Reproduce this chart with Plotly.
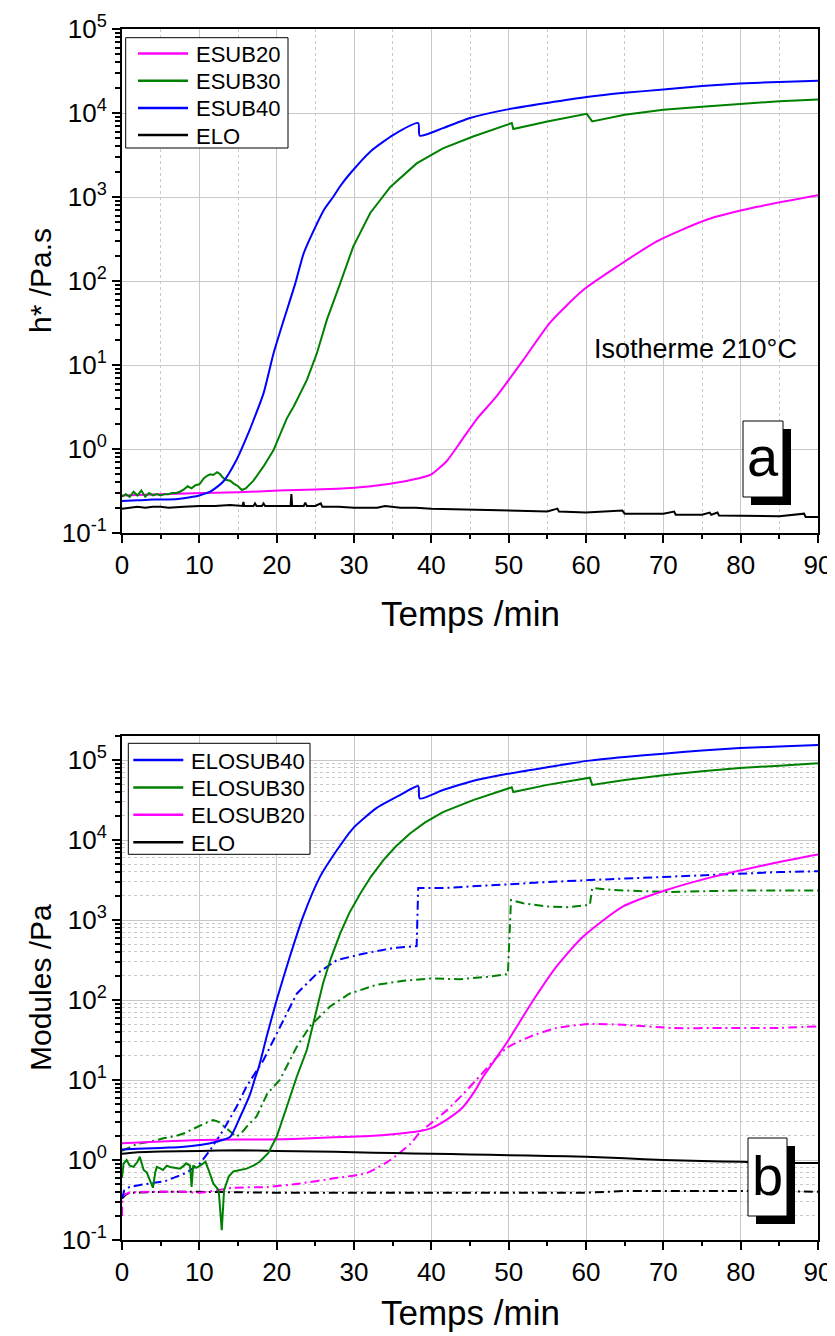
import plotly.graph_objects as go

FONT = "Liberation Sans, Arial, sans-serif"

# ---------------- Panel a : complex viscosity ----------------
t_esub20_a = [0, 5, 9.25, 15, 20.3, 25, 28.9, 33.2, 37.5, 40, 42, 44, 46, 48.4, 51.9, 55.3,
              59.6, 64, 69.1, 75.6, 82, 90]
v_esub20_a = [0.28, 0.29, 0.297, 0.305, 0.32, 0.33, 0.34, 0.37, 0.43, 0.5, 0.72, 1.3, 2.35,
              4.2, 11.5, 31.6, 77.6, 148, 295, 537, 759, 1047]

t_esub30_a = [0, 0.5, 1, 1.5, 2, 2.5, 3, 3.5, 4, 4.5, 5, 5.5, 6, 6.5, 7, 7.5, 8, 8.5, 9, 9.5,
              10, 10.6, 11, 11.4, 11.8, 12.3, 12.7, 13.0, 13.4, 14, 14.4, 15, 15.5, 16, 17,
              18.3, 19.6, 20.9, 21.3, 22.2, 23.9, 25.2, 26.5, 28.2, 29.9, 32.1, 34.7, 38.1,
              41.5, 45.4, 50.4, 50.6, 55, 60.1, 60.8, 65, 70, 75, 79.9, 85, 90]
v_esub30_a = [0.27, 0.29, 0.27, 0.31, 0.28, 0.32, 0.27, 0.30, 0.28, 0.29, 0.28, 0.29, 0.29,
              0.30, 0.30, 0.31, 0.33, 0.36, 0.34, 0.37, 0.38, 0.45, 0.48, 0.50, 0.49, 0.53,
              0.50, 0.46, 0.43, 0.42, 0.39, 0.36, 0.325, 0.34, 0.42, 0.62, 0.97, 1.84, 2.3,
              3.2, 6.6, 13.8, 34.7, 93, 257, 646, 1318, 2512, 3802, 5248, 7586, 6457, 7943,
              9772, 7943, 9550, 10965, 11885, 12882, 13804, 14454]

t_esub40_a = [0, 2, 4, 6, 8, 10, 11.4, 13.1, 14.8, 16.5, 17.0, 18.3, 19.6, 20.9, 22.4, 23.5,
              25.2, 26.2, 27.3, 28.3, 29.5, 32.1, 35.1, 38.3, 38.5, 41.5, 45, 49.7, 55, 60.1,
              65, 70, 75, 79.9, 85, 90]
v_esub40_a = [0.24, 0.245, 0.25, 0.25, 0.26, 0.28, 0.31, 0.41, 0.74, 1.68, 2.2, 4.6, 13.8, 34,
              93, 214, 479, 724, 1000, 1380, 1905, 3467, 5495, 7586, 5370, 6607, 8710, 10965,
              13183, 15488, 17378, 19055, 20893, 22387, 23442, 24266]

t_elo_a = [0, 1, 2, 3, 4, 5, 6, 8, 10, 12, 14, 15.6, 15.7, 15.8, 17, 17.2, 17.4, 18.1, 18.3,
           18.5, 20, 21.8, 21.9, 22.0, 23.5, 23.7, 23.9, 25, 25.7, 25.9, 28, 30, 33, 34, 36,
           38, 40, 45, 50, 55, 56.3, 56.5, 60, 64.7, 65, 70, 71.4, 71.6, 75, 76, 76.2, 77,
           77.2, 80, 85, 88.2, 88.4, 90]
v_elo_a = [0.195, 0.2, 0.205, 0.2, 0.205, 0.205, 0.2, 0.205, 0.21, 0.21, 0.215, 0.21, 0.235,
           0.21, 0.21, 0.225, 0.21, 0.21, 0.225, 0.21, 0.21, 0.21, 0.29, 0.21, 0.21, 0.23,
           0.21, 0.21, 0.225, 0.205, 0.205, 0.2, 0.2, 0.21, 0.2, 0.2, 0.195, 0.19, 0.185,
           0.18, 0.195, 0.18, 0.175, 0.185, 0.17, 0.17, 0.18, 0.165, 0.165, 0.175, 0.165,
           0.175, 0.162, 0.16, 0.158, 0.17, 0.155, 0.155]

# ---------------- Panel b : moduli (solid G', dashed G'') ----------------
t_s40_b = [0, 2, 4, 6, 8, 10.1, 12.2, 14, 15.3, 16.6, 17.2, 17.7, 18.7, 20, 21.7, 23.4, 25.6,
           27.8, 29.9, 32.9, 35.9, 38.3, 38.5, 41.5, 45, 49.7, 55, 60.1, 65, 70, 75, 79.9,
           85, 90]
v_s40_b = [1.35, 1.38, 1.40, 1.43, 1.47, 1.54, 1.69, 1.95, 3.5, 6.8, 10.5, 14.6, 34.7, 100,
           347, 1096, 3467, 7499, 14125, 25119, 36308, 47315, 33113, 42170, 53703, 66834,
           81283, 97724, 109648, 120226, 131826, 141254, 147911, 154882]

t_s30_b = [0, 0.2, 0.6, 1.0, 1.5, 2.0, 2.3, 2.8, 3.2, 3.6, 4.0, 4.3, 4.5, 5.0, 5.3, 5.8, 6.2,
           6.8, 7.5, 8.0, 8.3, 8.8, 9.0, 9.2, 9.6, 10.1, 10.8, 11.2, 11.8, 12.5, 12.9, 13.2,
           13.8, 14.4, 15, 16.1, 17, 17.8, 18.9, 20, 21.3, 22.6, 23.9, 24.3, 25.1, 26, 27,
           28.2, 29.4, 30.8, 32.2, 33.8, 35.4, 37.2, 39.2, 41.5, 45.4, 50.4, 50.6, 55, 60.5,
           60.8, 65, 70, 75, 79.9, 85, 90]
v_s30_b = [0.6, 0.9, 1.0, 0.85, 0.82, 0.95, 1.1, 0.75, 0.7, 0.56, 0.45, 0.7, 0.82, 0.78, 0.75,
           0.85, 0.82, 0.8, 0.78, 0.85, 0.91, 0.85, 0.46, 0.85, 0.8, 0.85, 0.95, 0.75, 0.51,
           0.42, 0.133, 0.42, 0.62, 0.72, 0.74, 0.78, 0.85, 0.95, 1.22, 1.95, 4.6, 11, 23.7,
           34.7, 72, 162, 330, 676, 1230, 2138, 3500, 5623, 8300, 12023, 16600, 22387, 31623,
           45709, 39811, 48978, 60256, 48978, 56234, 64565, 72444, 79433, 85114, 91201]

t_s20_b = [0, 5, 10.1, 15, 18.8, 23, 27.4, 32, 35, 38.6, 40, 42, 44, 45.5, 46.7, 49.7, 53.2,
           56.2, 59.6, 64.8, 70.4, 76.4, 84.2, 90]
v_s20_b = [1.62, 1.7, 1.78, 1.8, 1.8, 1.85, 1.92, 2.0, 2.1, 2.3, 2.5, 3.2, 4.5, 7.0, 11, 28.8,
           100, 263, 617, 1479, 2371, 3467, 5129, 6607]

t_selo_b = [0, 2, 5, 10, 15, 20, 25, 30, 35, 40, 45, 50, 55, 60, 65, 70, 75, 80, 85, 90]
v_selo_b = [1.2, 1.25, 1.28, 1.3, 1.32, 1.3, 1.28, 1.25, 1.22, 1.2, 1.17, 1.15, 1.12, 1.1, 1.05,
            1.0, 0.97, 0.95, 0.92, 0.92]

t_d40_b = [0, 0.3, 1, 3, 5.5, 8.3, 10.1, 11.4, 13.1, 14.8, 16.1, 17.4, 18.3, 20, 22.6, 25.2,
           27.8, 31.2, 35.1, 38.1, 38.3, 41.5, 45, 49.7, 55, 60.5, 65, 71.3, 75, 79.9, 85, 90]
v_d40_b = [0.33, 0.42, 0.46, 0.5, 0.54, 0.69, 0.91, 1.33, 2.37, 4.6, 8.3, 13.3, 17.8, 38, 120,
           214, 316, 380, 447, 473, 2512, 2512, 2630, 2818, 2985, 3162, 3311, 3467, 3631,
           3802, 3981, 4074]

t_d30_b = [0, 1, 2, 3.6, 5.5, 7, 8.3, 9, 10.1, 11, 11.8, 12.5, 13.5, 14.2, 14.8, 15.5, 16.1,
           17.4, 18.8, 20.4, 22.6, 24.3, 26.9, 29.4, 32.9, 36.4, 39.8, 43.7, 47.2, 49.9, 50.3,
           51.9, 54.9, 57.5, 60.5, 60.8, 63.5, 70.4, 79.9, 90]
v_d30_b = [1.3, 1.45, 1.6, 1.69, 1.88, 2.0, 2.2, 2.4, 2.7, 2.95, 3.16, 3.0, 2.5, 2.2, 1.95, 2.2,
           2.6, 3.5, 6.8, 10, 26, 47, 83, 120, 155, 174, 186, 182, 195, 211, 1778, 1622, 1479,
           1445, 1549, 2512, 2371, 2239, 2344, 2344]

t_d20_b = [0, 0.2, 1, 3.6, 8, 10.1, 14.4, 18.8, 23.1, 27.4, 31.7, 34.7, 37.3, 38.6, 40, 42, 44,
           45.8, 49.7, 52.7, 56.2, 60.5, 64.8, 71.3, 77.7, 84.2, 90]
v_d20_b = [0.2, 0.36, 0.39, 0.40, 0.40, 0.39, 0.45, 0.46, 0.51, 0.59, 0.69, 1.0, 1.6, 2.26, 2.9,
           4.2, 6.5, 10, 25, 34.7, 44.7, 50.1, 49, 44.7, 44.7, 44.7, 46.8]

t_delo_b = [0, 0.5, 1, 5, 10, 20, 30, 40, 50, 60, 65, 70, 80, 85, 90]
v_delo_b = [0.33, 0.37, 0.39, 0.40, 0.40, 0.39, 0.39, 0.39, 0.39, 0.39, 0.41, 0.41, 0.41, 0.41,
            0.40]

# axis labels
x_ticks = [0, 10, 20, 30, 40, 50, 60, 70, 80, 90]
x_minor = [5, 15, 25, 35, 45, 55, 65, 75, 85]
y_tickvals = [0.1, 1, 10, 100, 1000, 10000, 100000]
y_ticktext = ["10<sup>-1</sup>", "10<sup>0</sup>", "10<sup>1</sup>", "10<sup>2</sup>",
              "10<sup>3</sup>", "10<sup>4</sup>", "10<sup>5</sup>"]
minor_y = [m * 10 ** k for k in range(-1, 6) for m in range(2, 10)]

legend_a_names = ["ESUB20", "ESUB30", "ESUB40", "ELO"]
legend_b_names = ["ELOSUB40", "ELOSUB30", "ELOSUB20", "ELO"]

MAG, GRN, BLU, BLK = "#FF00FF", "#008000", "#0000FF", "#000000"
legend_a_colors = [MAG, GRN, BLU, BLK]
legend_b_colors = [BLU, GRN, MAG, BLK]
DASH = "9px,4px,2px,4px"

# Page is drawn with the browser's default 8px body margin: keep the plot
# area at the reference position by shrinking the figure accordingly.
OFF = 8
W, H = 835 - OFF, 1336 - OFF
PL, PR, PT, PB = 122, 818, 29, 1240   # plot area in page pixels


def px(xp):
    return (xp - PL) / (PR - PL)


def py(yp):
    return (PB - yp) / (PB - PT)


fig = go.Figure()


def add(t, v, color, name, xa, ya, dash="solid", shape="linear"):
    fig.add_trace(go.Scatter(x=t, y=v, mode="lines", name=name, xaxis=xa, yaxis=ya,
                             showlegend=False,
                             line=dict(color=color, width=2, dash=dash, shape=shape,
                                       smoothing=0.6)))


add(t_elo_a, v_elo_a, BLK, "ELO", "x", "y")
add(t_esub20_a, v_esub20_a, MAG, "ESUB20", "x", "y", shape="spline")
add(t_esub30_a, v_esub30_a, GRN, "ESUB30", "x", "y")
add(t_esub40_a, v_esub40_a, BLU, "ESUB40", "x", "y", shape="spline")

add(t_delo_b, v_delo_b, BLK, "ELO G''", "x2", "y2", dash=DASH)
add(t_d20_b, v_d20_b, MAG, "ELOSUB20 G''", "x2", "y2", dash=DASH, shape="spline")
add(t_d30_b, v_d30_b, GRN, "ELOSUB30 G''", "x2", "y2", dash=DASH)
add(t_d40_b, v_d40_b, BLU, "ELOSUB40 G''", "x2", "y2", dash=DASH)
add(t_selo_b, v_selo_b, BLK, "ELO", "x2", "y2", shape="spline")
add(t_s20_b, v_s20_b, MAG, "ELOSUB20", "x2", "y2", shape="spline")
add(t_s30_b, v_s30_b, GRN, "ELOSUB30", "x2", "y2")
add(t_s40_b, v_s40_b, BLU, "ELOSUB40", "x2", "y2", shape="spline")

GRID = "#c8c8c8"
common_x = dict(range=[0, 90], tickvals=x_ticks, ticks="outside", ticklen=8, tickwidth=2,
                tickcolor="black", showline=True, linewidth=2, linecolor="black", mirror=True,
                showgrid=True, gridcolor=GRID, gridwidth=1, zeroline=False, automargin=False,
                tickfont=dict(size=26, color="black", family=FONT))
common_y = dict(type="log", tickvals=y_tickvals, ticktext=y_ticktext, ticks="outside",
                ticklen=8, tickwidth=2, tickcolor="black", showline=True, linewidth=2,
                linecolor="black", mirror=True, showgrid=True, gridcolor=GRID, gridwidth=1,
                zeroline=False, automargin=False,
                tickfont=dict(size=26, color="black", family=FONT))

fig.update_layout(
    width=W, height=H,
    margin=dict(l=PL - OFF, r=835 - PR, t=PT - OFF, b=1336 - PB, autoexpand=False),
    paper_bgcolor="white", plot_bgcolor="white",
    showlegend=False,
    font=dict(family=FONT, color="black"),
    xaxis=dict(**common_x, domain=[0, 1], anchor="y",
               minor=dict(tickvals=x_minor, ticks="outside", ticklen=4, tickwidth=2,
                          tickcolor="black", showgrid=True, gridcolor=GRID, griddash="dot",
                          gridwidth=1)),
    yaxis=dict(**common_y, domain=[py(533), 1], anchor="x", range=[-1, 5],
               minor=dict(tickvals=minor_y, ticks="outside", ticklen=5, tickwidth=1.5,
                          tickcolor="black", showgrid=False)),
    xaxis2=dict(**common_x, domain=[0, 1], anchor="y2",
                minor=dict(tickvals=x_minor, ticks="outside", ticklen=4, tickwidth=2,
                           tickcolor="black", showgrid=False)),
    yaxis2=dict(**common_y, domain=[0, py(736)], anchor="x2", range=[-1, 5.30103],
                minor=dict(tickvals=minor_y, ticks="outside", ticklen=5, tickwidth=1.5,
                           tickcolor="black", showgrid=True, gridcolor=GRID,
                           griddash="dot", gridwidth=1)),
)

shapes = []
ann = []


def rect(x0, y0, x1, y1, fill, lw):
    shapes.append(dict(type="rect", xref="paper", yref="paper", layer="above",
                       x0=px(x0), x1=px(x1), y0=py(y1), y1=py(y0), fillcolor=fill,
                       line=dict(color="black", width=lw)))


def text(s, x, y, size, anchor="center", angle=0):
    ann.append(dict(text=s, x=px(x), y=py(y), xref="paper", yref="paper", showarrow=False,
                    xanchor=anchor, yanchor="middle", textangle=angle,
                    font=dict(size=size, family=FONT, color="black")))


# legends (drawn as boxes with line samples and text)
rect(125.7, 37.7, 288, 148, "white", 1)
for i, (nm, c) in enumerate(zip(legend_a_names, legend_a_colors)):
    yy = 53.5 + 27.2 * i
    shapes.append(dict(type="line", xref="paper", yref="paper", layer="above",
                       x0=px(138), x1=px(188), y0=py(yy), y1=py(yy),
                       line=dict(color=c, width=2.5)))
    text(nm, 194, yy + 1, 22, anchor="left")

rect(128.3, 743.3, 310, 854.3, "white", 1)
for i, (nm, c) in enumerate(zip(legend_b_names, legend_b_colors)):
    yy = 760 + 27.4 * i
    shapes.append(dict(type="line", xref="paper", yref="paper", layer="above",
                       x0=px(133.3), x1=px(183.3), y0=py(yy), y1=py(yy),
                       line=dict(color=c, width=2.5)))
    text(nm, 189, yy + 1, 22, anchor="left")

# label boxes with shadow
rect(751, 429, 791, 505, "black", 0)
rect(743, 421, 783, 497, "white", 1)
rect(756, 1146, 795, 1224, "black", 0)
rect(748, 1138, 787, 1216, "white", 1)

text("a", 763, 456, 56)
text("b", 767.5, 1175, 56)
text("Isotherme 210°C", 695, 349, 27)
text("Temps /min", 470, 613, 35)
text("Temps /min", 470, 1312, 35)
text("h* /Pa.s", 40, 281, 30, angle=-90)
text("Modules /Pa", 40, 988, 30, angle=-90)

fig.update_layout(shapes=shapes, annotations=ann)

fig.write_html("out.html")
